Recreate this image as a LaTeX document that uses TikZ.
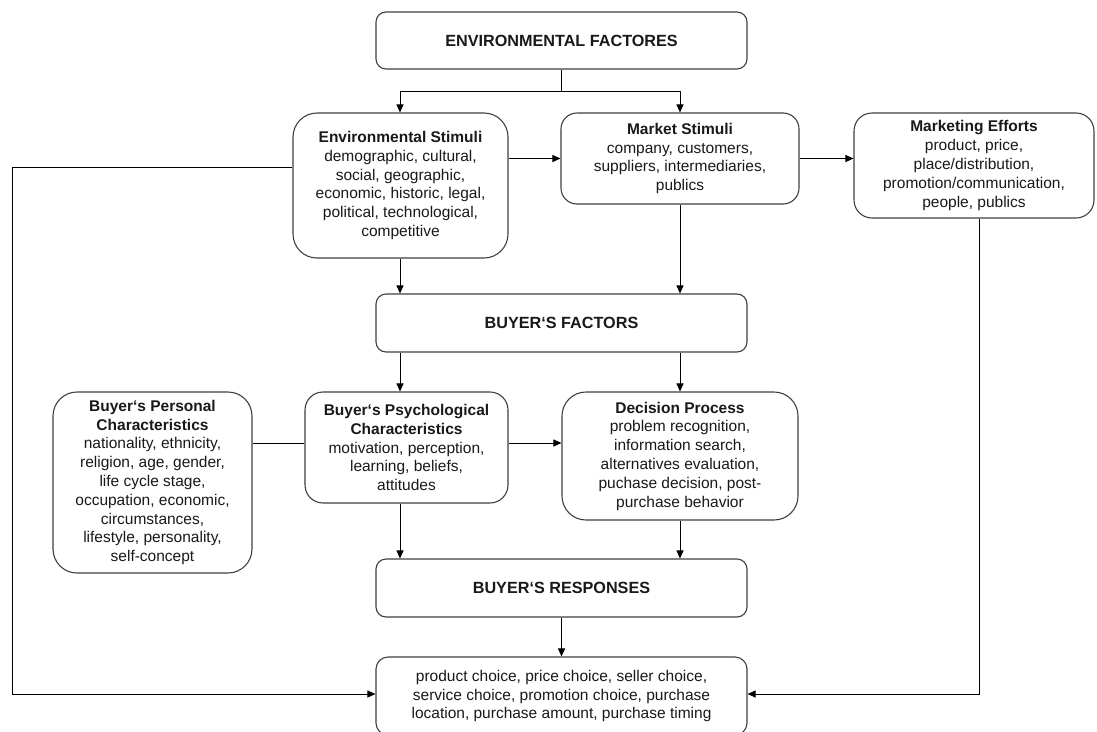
\documentclass[tikz,border=0pt]{standalone}
\usepackage{fontspec}
\setmainfont{Liberation Sans}
\usetikzlibrary{arrows.meta}
\begin{document}
\begin{tikzpicture}[x=1pt,y=-1pt,
  box/.style={draw=black!75, line width=1.1pt, align=center, inner sep=0pt,
    font=\fontsize{15.5}{18.8}\selectfont, text=black!90},
  head/.style={box, rounded corners=10pt, minimum width=371pt,
    font=\fontsize{16.2}{19}\selectfont\bfseries},
  conn/.style={draw=black, line width=1pt},
  arr/.style={conn, -{Triangle[length=8pt,width=7pt]}}
]
\useasboundingbox (0,0) rectangle (1097,731);
\fill[white] (0,0) rectangle (1097,731);

\node[head, minimum height=57pt] (ef) at (561.5,40.5) {ENVIRONMENTAL FACTORES};

\node[box, rounded corners=24pt, minimum width=215pt, minimum height=145pt] (es) at (400.5,185.5)
  {\textbf{Environmental Stimuli}\\demographic, cultural,\\social, geographic,\\economic, historic, legal,\\political, technological,\\competitive};

\node[box, rounded corners=16pt, minimum width=238pt, minimum height=91pt] (ms) at (680,158.5)
  {\textbf{Market Stimuli}\\company, customers,\\suppliers, intermediaries,\\publics};

\node[box, rounded corners=18pt, minimum width=240pt, minimum height=105pt] (me) at (974,165.5)
  {\textbf{Marketing Efforts}\\product, price,\\place/distribution,\\promotion/communication,\\people, publics};

\node[head, minimum height=58pt] (bf) at (561.5,323) {BUYER‘S FACTORS};

\node[box, rounded corners=24pt, minimum width=199pt, minimum height=181pt] (pc) at (152.5,482.5)
  {\textbf{Buyer‘s Personal}\\\textbf{Characteristics}\\nationality, ethnicity,\\religion, age, gender,\\life cycle stage,\\occupation, economic,\\circumstances,\\lifestyle, personality,\\self-concept};

\node[box, rounded corners=18pt, minimum width=203pt, minimum height=111pt] (psy) at (406.5,447.5)
  {\textbf{Buyer‘s Psychological}\\\textbf{Characteristics}\\motivation, perception,\\learning, beliefs,\\attitudes};

\node[box, rounded corners=24pt, minimum width=236pt, minimum height=128pt] (dp) at (680,456)
  {\textbf{Decision Process}\\problem recognition,\\information search,\\alternatives evaluation,\\puchase decision, post-\\purchase behavior};

\node[head, minimum height=58pt] (br) at (561.5,588) {BUYER‘S RESPONSES};

\node[box, rounded corners=12pt, minimum width=371pt, minimum height=78pt] (fin) at (561.5,696)
  {product choice, price choice, seller choice,\\service choice, promotion choice, purchase\\location, purchase amount, purchase timing};

% helper coordinates
\coordinate (cL) at (400,0);
\coordinate (cR) at (680,0);
\coordinate (split) at (561.5,91);
\coordinate (row2) at (0,443);
\coordinate (lc) at (12,694);
\coordinate (rc) at (979,694);

% connectors
\draw[conn] (ef.south) -- (split);
\draw[arr] (split) -| (es.north -| cL);
\draw[arr] (split) -| (ms.north -| cR);
\draw[arr] (es.east |- ms.west) -- (ms.west);
\draw[arr] (ms.east) -- (me.west |- ms.east);
\draw[arr] (es.south -| cL) -- (bf.north -| cL);
\draw[arr] (ms.south -| cR) -- (bf.north -| cR);
\draw[arr] (bf.south -| cL) -- (psy.north -| cL);
\draw[arr] (bf.south -| cR) -- (dp.north -| cR);
\draw[conn] (pc.east |- row2) -- (psy.west |- row2);
\draw[arr] (psy.east |- row2) -- (dp.west |- row2);
\draw[arr] (psy.south -| cL) -- (br.north -| cL);
\draw[arr] (dp.south -| cR) -- (br.north -| cR);
\draw[arr] (br.south) -- (fin.north);
\draw[arr] (es.west |- 0,167) -| (lc) -- (fin.west |- lc);
\draw[arr] (me.south -| rc) -- (rc) -- (fin.east |- rc);
\end{tikzpicture}
\end{document}
